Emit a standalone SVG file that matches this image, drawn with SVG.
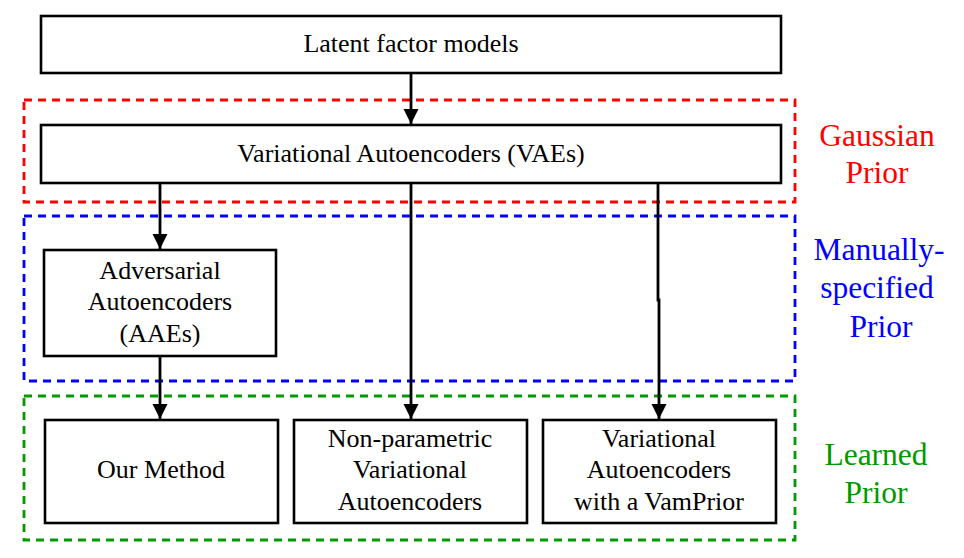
<svg xmlns="http://www.w3.org/2000/svg" width="964" height="558" viewBox="0 0 964 558">
<style>
.box{fill:#fff;stroke:#000;stroke-width:2.6}
.grp{fill:none;stroke-width:2.8;stroke-dasharray:8 6}
.t{font-family:"Liberation Serif","Times New Roman",serif;font-size:26px;fill:#000;text-anchor:middle}
.s{font-family:"Liberation Serif","Times New Roman",serif;font-size:31.5px;text-anchor:middle}
.c{fill:none;stroke:#000;stroke-width:2.8}
</style>
<defs>
<marker id="ah" markerWidth="15" markerHeight="16" refX="15" refY="7.5" orient="auto" markerUnits="userSpaceOnUse">
<path d="M0,0 L15,7.5 L0,15 Z" fill="#000"/>
</marker>
</defs>
<rect width="964" height="558" fill="#fff"/>
<g id="groups">
<rect class="grp" x="24" y="100" width="771" height="102" stroke="#ff0000"/>
<rect class="grp" x="24" y="216" width="771" height="165" stroke="#0000ff"/>
<rect class="grp" x="24" y="396" width="771" height="144" stroke="#009900"/>
</g>
<g id="labels">
<text class="s" x="877" y="146" fill="#ff0000">Gaussian</text>
<text class="s" x="877" y="183" fill="#ff0000">Prior</text>
<text class="s" x="879" y="260" fill="#0000ff">Manually-</text>
<text class="s" x="877" y="298" fill="#0000ff">specified</text>
<text class="s" x="881" y="337" fill="#0000ff">Prior</text>
<text class="s" x="876" y="465" fill="#009900">Learned</text>
<text class="s" x="876" y="503" fill="#009900">Prior</text>
</g>
<g id="latent">
<rect class="box" x="41" y="16" width="740" height="57"/>
<text class="t" x="411" y="52">Latent factor models</text>
</g>
<g id="vae">
<rect class="box" x="41" y="125" width="740" height="58"/>
<text class="t" x="411" y="162">Variational Autoencoders (VAEs)</text>
</g>
<g id="aae">
<rect class="box" x="44" y="250" width="232" height="106"/>
<text class="t" x="160" y="279">Adversarial</text>
<text class="t" x="160" y="310">Autoencoders</text>
<text class="t" x="160" y="342">(AAEs)</text>
</g>
<g id="ours">
<rect class="box" x="45" y="420" width="233" height="103"/>
<text class="t" x="161" y="478">Our Method</text>
</g>
<g id="nonparam">
<rect class="box" x="294" y="420" width="233" height="103"/>
<text class="t" x="410" y="447">Non-parametric</text>
<text class="t" x="410" y="478">Variational</text>
<text class="t" x="410" y="510">Autoencoders</text>
</g>
<g id="vamprior">
<rect class="box" x="543" y="420" width="233" height="103"/>
<text class="t" x="659" y="447">Variational</text>
<text class="t" x="659" y="478">Autoencoders</text>
<text class="t" x="659" y="510">with a VamPrior</text>
</g>
<g id="connectors">
<path class="c" d="M411,73 V124" marker-end="url(#ah)"/>
<path class="c" d="M160,183 V249" marker-end="url(#ah)"/>
<path class="c" d="M411,183 V419" marker-end="url(#ah)"/>
<path class="c" d="M658,183 V300 H659 V419" marker-end="url(#ah)"/>
<path class="c" d="M160,356 V419" marker-end="url(#ah)"/>
</g>
</svg>
